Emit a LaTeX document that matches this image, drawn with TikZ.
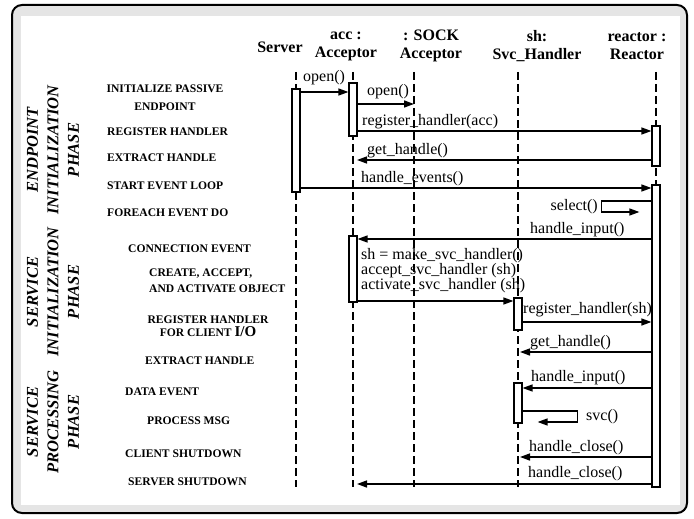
\documentclass[tikz,border=0pt]{standalone}
\usepackage{fontspec}
\setmainfont{Liberation Serif}
\usetikzlibrary{arrows.meta}

\begin{document}
\begin{tikzpicture}[x=1pt, y=-1pt,
    head/.style={font=\fontsize{16}{18}\selectfont\bfseries, align=center,
      inner sep=0},
    stage/.style={font=\fontsize{11.6}{16}\selectfont\bfseries, anchor=west,
      inner sep=0},
    phase/.style={font=\fontsize{16.5}{20.5}\selectfont\bfseries\itshape,
      rotate=90, align=center, inner sep=0},
    lbl/.style={font=\fontsize{16}{15}\selectfont, anchor=west, inner sep=0},
    lifeline/.style={line width=1.5pt, dash pattern=on 8pt off 4pt},
    bar/.style={draw, fill=white, line width=1.2pt, minimum width=8pt,
      inner sep=0},
    msg/.style={line width=1.5pt, -{Triangle[length=10pt, width=7pt]}}]

    \useasboundingbox (0,0) rectangle (694,519);
    \draw[line width=2pt, rounded corners=10pt, fill=gray!20]
      (12,5) rectangle (687,513);
    \fill[white] (21,16) rectangle (680,505);

    \node[head] (srvhd) at (280,47) {Server};
    \node[head] (acchd) at (346,46) {acc :\\Acceptor};
    \node[head] (sockhd) at (431,46) {: SOCK\\Acceptor};
    \node[head] (shhd) at (537,46) {sh:\\Svc\_Handler};
    \node[head] (rcthd) at (637,46) {reactor :\\Reactor};

    \coordinate (srvT) at (296,72);
    \coordinate (srvB) at (296,487);
    \coordinate (accT) at (353,72);
    \coordinate (accB) at (353,487);
    \coordinate (sockT) at (414,72);
    \coordinate (sockB) at (414,487);
    \coordinate (shT) at (518,72);
    \coordinate (shB) at (518,487);
    \coordinate (rctT) at (656,72);
    \coordinate (rctB) at (656,490);
    \draw[lifeline] (srvT) -- (srvB);
    \draw[lifeline] (accT) -- (accB);
    \draw[lifeline] (sockT) -- (sockB);
    \draw[lifeline] (shT) -- (shB);
    \draw[lifeline] (rctT) -- (rctB);

    \node[bar, minimum height=103pt] (srvbar) at (296,140.5) {};
    \node[bar, minimum height=53pt] (accbarA) at (353,109.5) {};
    \node[bar, minimum height=66pt] (accbarB) at (353,269) {};
    \node[bar, minimum height=40pt] (rctbarA) at (656,146) {};
    \node[bar, minimum height=302pt] (rctbarB) at (656,336) {};
    \node[bar, minimum height=32pt] (shbarA) at (518,314) {};
    \node[bar, minimum height=40pt] (shbarB) at (518,403) {};

    \coordinate (t1) at (0,92);
    \coordinate (t2) at (0,104);
    \coordinate (t3) at (0,131);
    \coordinate (t4) at (0,160);
    \coordinate (t5) at (0,188);
    \coordinate (t6) at (0,201);
    \coordinate (t7) at (0,239);
    \coordinate (t9) at (0,301);
    \coordinate (t10) at (0,322);
    \coordinate (t11) at (0,352);
    \coordinate (t12) at (0,388);
    \coordinate (t13) at (0,411);
    \coordinate (t14) at (0,457);
    \coordinate (t15) at (0,484);

    \draw[msg] (srvbar.east |- t1) -- (accbarA.west |- t1);
    \draw[msg] (accbarA.east |- t2) -- (sockT |- t2);
    \draw[msg] (accbarA.east |- t3) -- (rctbarA.west |- t3);
    \draw[msg, shorten >=4pt] (rctbarA.west |- t4) -- (accT |- t4);
    \draw[msg] (srvbar.east |- t5) -- (rctbarB.west |- t5);
    \draw[msg] (rctbarB.west |- t6) -- ++(-50,0) -- ++(0,11) -- ++(38,0);
    \draw[msg] (rctbarB.west |- t7) -- (accbarB.east |- t7);
    \draw[msg] (accbarB.east |- t9) -- (shbarA.west |- t9);
    \draw[msg] (shbarA.east |- t10) -- (rctbarB.west |- t10);
    \draw[msg, shorten >=2pt] (rctbarB.west |- t11) -- (shT |- t11);
    \draw[msg] (rctbarB.west |- t12) -- (shbarB.east |- t12);
    \draw[msg] (shbarB.east |- t13) -- ++(55,0) -- ++(0,11) -- ++(-40,0);
    \draw[msg, shorten >=2pt] (rctbarB.west |- t14) -- (shT |- t14);
    \draw[msg, shorten >=4pt] (rctbarB.west |- t15) -- (accT |- t15);

    \node[lbl] (l1) at (303,78) {open()};
    \node[lbl] (l2) at (367,92) {open()};
    \node[lbl] (l3) at (362,122) {register\_handler(acc)};
    \node[lbl] (l4) at (367,151) {get\_handle()};
    \node[lbl] (l5) at (361,179) {handle\_events()};
    \node[lbl, anchor=east] (l6) at (598,207) {select()};
    \node[lbl] (l7) at (530,230) {handle\_input()};
    \node[lbl, align=left] (l8) at (361,271)
      {sh = make\_svc\_handler()\\accept\_svc\_handler (sh)\\
      activate\_svc\_handler (sh)};
    \node[lbl] (l10) at (523,310) {register\_handler(sh)};
    \node[lbl] (l11) at (530,343) {get\_handle()};
    \node[lbl] (l12) at (531,378) {handle\_input()};
    \node[lbl] (l13) at (586,417) {svc()};
    \node[lbl] (l14) at (529,448) {handle\_close()};
    \node[lbl] (l15) at (528,474) {handle\_close()};

    \node[phase] (ph1) at (53,150) {ENDPOINT\\INITIALIZATION\\PHASE};
    \node[phase] (ph2) at (53,292) {SERVICE\\INITIALIZATION\\PHASE};
    \node[phase] (ph3) at (53,422) {SERVICE\\PROCESSING\\PHASE};

    \node[stage, anchor=center, align=center,
      font=\fontsize{11.6}{18}\selectfont\bfseries] (s1) at (165,98)
      {INITIALIZE PASSIVE\\ENDPOINT};
    \node[stage] (s2) at (107,132) {REGISTER HANDLER};
    \node[stage] (s3) at (107,158) {EXTRACT HANDLE};
    \node[stage] (s4) at (107,186) {START EVENT LOOP};
    \node[stage] (s5) at (107,213) {FOREACH EVENT DO};
    \node[stage] (s6) at (128,249) {CONNECTION EVENT};
    \node[stage, align=left] (s7) at (149,281)
      {CREATE, ACCEPT,\\AND ACTIVATE OBJECT};
    \node[stage, anchor=center, align=center,
      font=\fontsize{11.6}{13}\selectfont\bfseries] (s8) at (208,326)
      {REGISTER HANDLER\\FOR CLIENT {\fontsize{15}{15}\selectfont I/O}};
    \node[stage] (s9) at (145,361) {EXTRACT HANDLE};
    \node[stage] (s10) at (125,392) {DATA EVENT};
    \node[stage] (s11) at (147,421) {PROCESS MSG};
    \node[stage] (s12) at (125,454) {CLIENT SHUTDOWN};
    \node[stage] (s13) at (128,482) {SERVER SHUTDOWN};
\end{tikzpicture}
\end{document}
